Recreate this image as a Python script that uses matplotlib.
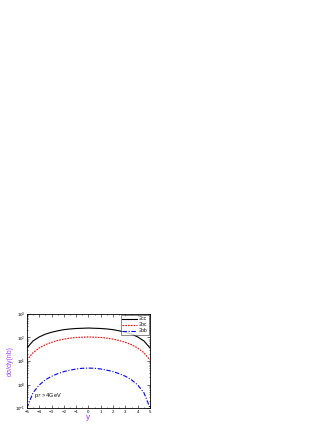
import matplotlib
matplotlib.use("Agg")
from matplotlib import pyplot as plt
from matplotlib.ticker import MultipleLocator, LogLocator, NullFormatter
import numpy as np

plt.rcParams['font.family'] = ['Liberation Sans', 'DejaVu Sans']
plt.rcParams['mathtext.fontset'] = 'custom'
plt.rcParams['mathtext.rm'] = 'Liberation Sans'

y = [-5, -4.5, -4, -3.5, -3, -2.5, -2, -1.5, -1, -0.5, 0,
     0.5, 1, 1.5, 2, 2.5, 3, 3.5, 4, 4.5, 5]
xicc = [35.5, 71, 105, 138, 166, 191, 214, 229, 240, 245, 251,
        245, 240, 229, 214, 191, 166, 138, 105, 71, 35.5]
xibc = [11, 22.4, 35.5, 49, 62, 74, 85, 93, 100, 102, 105,
        102, 100, 93, 85, 74, 62, 49, 35.5, 22.4, 11]
xibb = [0.1, 0.45, 0.95, 1.58, 2.24, 2.88, 3.55, 4.07, 4.57, 4.9, 5.0,
        4.9, 4.57, 4.07, 3.55, 2.88, 2.24, 1.58, 0.95, 0.45, 0.1]

fig = plt.figure(figsize=(3.32, 4.30), dpi=100)
ax = fig.add_axes([0.081, 0.051, 0.371, 0.219])

ax.plot(y, xicc, c='k', lw=0.8, ls='-', label='Ξcc')
ax.plot(y, xibc, c='r', lw=0.8, ls=(0, (1.5, 1)), label='Ξbc')
ax.plot(y, xibb, c='b', lw=0.8, ls=(0, (4, 1.5, 1, 1.5)), label='Ξbb')

ax.set_yscale('log')
ax.set_xlim(-5, 5)
ax.set_ylim(0.1, 1000)
ax.xaxis.set_major_locator(MultipleLocator(1))
ax.xaxis.set_minor_locator(MultipleLocator(0.5))
ax.yaxis.set_major_locator(LogLocator(base=10, numticks=10))
ax.yaxis.set_minor_locator(LogLocator(base=10, subs=np.arange(2, 10), numticks=10))
ax.yaxis.set_minor_formatter(NullFormatter())
ax.tick_params(which='both', direction='in', top=True, right=True, width=0.4)
ax.tick_params(which='major', length=2, labelsize=3.2, pad=1.2)
ax.tick_params(which='minor', length=1)
for s in ax.spines.values():
    s.set_linewidth(0.6)

ax.set_xlabel('y', color='#a040ff', fontsize=6, labelpad=0)
ax.set_ylabel('dσ/dy(nb)', color='#a040ff', fontsize=5)
ax.yaxis.set_label_coords(-0.11, 0.5)
ax.text(-4.4, 0.3, r'p$_T$ > 4GeV', fontsize=4)

leg = ax.legend(loc='upper right', fontsize=3.5, frameon=True, fancybox=False,
                edgecolor='k', handlelength=3, borderpad=0.3, labelspacing=0.2,
                handletextpad=0.5, borderaxespad=0.2)
leg.get_frame().set_linewidth(0.4)

fig.savefig('out.png', dpi=100)
